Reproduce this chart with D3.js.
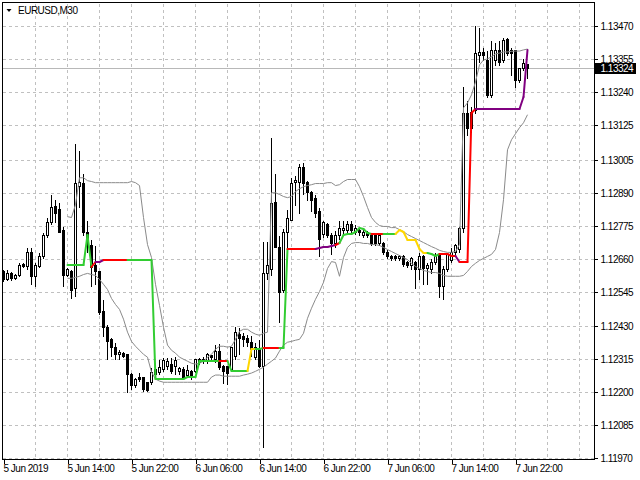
<!DOCTYPE html>
<html><head><meta charset="utf-8">
<script src="https://cdn.jsdelivr.net/npm/d3@7"></script>
<style>
html,body{margin:0;padding:0;background:#fff;}
svg{display:block;}
text{font-family:"Liberation Sans",Arial,sans-serif;font-size:10px;letter-spacing:-0.5px;fill:#000;}
</style>
</head><body>
<svg id="c" width="640" height="480"></svg>
<script>
const symbolLabel = "EURUSD,M30";
const timeLabels = ["5 Jun 2019","5 Jun 14:00","5 Jun 22:00","6 Jun 06:00","6 Jun 14:00","6 Jun 22:00","7 Jun 06:00","7 Jun 14:00","7 Jun 22:00"];
const timeLabelBars = [0,16,32,48,64,80,96,112,128];
const priceTicks = [1.11970,1.12085,1.12200,1.12315,1.12430,1.12545,1.12660,1.12775,1.12890,1.13005,1.13125,1.13240,1.13355,1.13470];
const lastPrice = 1.13324;

const open = [1.12618,1.12590,1.12614,1.12594,1.12604,1.12642,1.12635,1.12687,1.12601,1.12635,
1.12670,1.12746,1.12788,1.12846,1.12833,1.12763,1.12604,1.12618,1.12559,1.12916,
1.12926,1.12756,1.12711,1.12639,1.12618,1.12479,1.12424,1.12382,1.12355,1.12330,
1.12334,1.12330,1.12261,1.12223,1.12251,1.12251,1.12233,1.12233,1.12261,1.12268,
1.12278,1.12289,1.12296,1.12289,1.12271,1.12278,1.12258,1.12271,1.12271,1.12303,
1.12313,1.12306,1.12327,1.12313,1.12341,1.12289,1.12289,1.12278,1.12323,1.12400,
1.12393,1.12386,1.12372,1.12320,1.12348,1.12289,1.12614,1.12625,1.12860,1.12704,
1.12555,1.12753,1.12798,1.12930,1.12930,1.12982,1.12930,1.12895,1.12874,1.12826,
1.12749,1.12781,1.12746,1.12715,1.12746,1.12760,1.12763,1.12784,1.12756,1.12763,
1.12746,1.12756,1.12746,1.12743,1.12715,1.12715,1.12687,1.12673,1.12673,1.12666,
1.12670,1.12649,1.12639,1.12649,1.12625,1.12673,1.12628,1.12625,1.12652,1.12677,
1.12566,1.12625,1.12659,1.12684,1.12694,1.12770,1.13169,1.13117,1.13179,1.13370,
1.13380,1.13352,1.13231,1.13352,1.13387,1.13352,1.13425,1.13387,1.13387,1.13283,
1.13324,1.13338];
const high = [1.12625,1.12625,1.12621,1.12614,1.12649,1.12649,1.12704,1.12701,1.12649,1.12684,
1.12756,1.12808,1.12885,1.12871,1.12860,1.12774,1.12632,1.12625,1.13065,1.13040,
1.12961,1.12798,1.12729,1.12711,1.12621,1.12521,1.12434,1.12389,1.12372,1.12348,
1.12341,1.12334,1.12268,1.12251,1.12268,1.12254,1.12237,1.12285,1.12285,1.12313,
1.12320,1.12320,1.12320,1.12323,1.12289,1.12289,1.12296,1.12278,1.12316,1.12320,
1.12323,1.12337,1.12330,1.12365,1.12368,1.12296,1.12292,1.12358,1.12427,1.12424,
1.12407,1.12400,1.12396,1.12372,1.12382,1.12722,1.12722,1.13085,1.12961,1.12746,
1.12770,1.12833,1.12947,1.12954,1.12995,1.12999,1.12937,1.12902,1.12885,1.12840,
1.12798,1.12788,1.12753,1.12763,1.12795,1.12795,1.12795,1.12795,1.12781,1.12774,
1.12767,1.12763,1.12753,1.12749,1.12749,1.12722,1.12694,1.12680,1.12680,1.12680,
1.12677,1.12656,1.12670,1.12656,1.12684,1.12680,1.12649,1.12663,1.12684,1.12684,
1.12639,1.12687,1.12701,1.12718,1.12777,1.13262,1.13214,1.13193,1.13473,1.13467,
1.13397,1.13387,1.13421,1.13415,1.13421,1.13432,1.13432,1.13397,1.13390,1.13328,
1.13359,1.13342];
const low = [1.12583,1.12587,1.12587,1.12590,1.12601,1.12632,1.12625,1.12573,1.12566,1.12632,
1.12666,1.12739,1.12781,1.12788,1.12753,1.12566,1.12601,1.12524,1.12531,1.12843,
1.12746,1.12687,1.12566,1.12573,1.12469,1.12393,1.12313,1.12323,1.12313,1.12313,
1.12320,1.12199,1.12209,1.12216,1.12237,1.12202,1.12202,1.12226,1.12251,1.12261,
1.12271,1.12278,1.12265,1.12261,1.12261,1.12244,1.12251,1.12244,1.12268,1.12296,
1.12299,1.12299,1.12306,1.12303,1.12278,1.12230,1.12226,1.12271,1.12313,1.12330,
1.12358,1.12358,1.12323,1.12313,1.12285,1.12008,1.12590,1.12607,1.12701,1.12441,
1.12545,1.12659,1.12795,1.12850,1.12822,1.12885,1.12867,1.12826,1.12808,1.12670,
1.12739,1.12736,1.12680,1.12704,1.12729,1.12749,1.12756,1.12756,1.12749,1.12743,
1.12739,1.12736,1.12708,1.12708,1.12708,1.12677,1.12666,1.12659,1.12659,1.12659,
1.12635,1.12632,1.12625,1.12562,1.12590,1.12573,1.12573,1.12614,1.12642,1.12528,
1.12521,1.12618,1.12652,1.12677,1.12687,1.12756,1.13092,1.13103,1.13169,1.13345,
1.13352,1.13224,1.13224,1.13335,1.13335,1.13345,1.13370,1.13300,1.13259,1.13276,
1.13317,1.13290];
const close = [1.12590,1.12614,1.12594,1.12604,1.12639,1.12635,1.12684,1.12601,1.12639,1.12670,
1.12746,1.12791,1.12843,1.12822,1.12756,1.12604,1.12625,1.12555,1.12926,1.12930,
1.12753,1.12711,1.12632,1.12618,1.12476,1.12424,1.12375,1.12355,1.12330,1.12337,
1.12323,1.12261,1.12223,1.12244,1.12244,1.12209,1.12206,1.12268,1.12278,1.12285,
1.12310,1.12306,1.12271,1.12310,1.12282,1.12247,1.12275,1.12258,1.12313,1.12313,
1.12306,1.12330,1.12320,1.12341,1.12285,1.12271,1.12265,1.12355,1.12407,1.12386,
1.12382,1.12372,1.12348,1.12355,1.12289,1.12614,1.12639,1.12857,1.12704,1.12545,
1.12756,1.12805,1.12926,1.12937,1.12982,1.12926,1.12895,1.12867,1.12822,1.12729,
1.12788,1.12746,1.12715,1.12746,1.12767,1.12767,1.12781,1.12763,1.12767,1.12753,
1.12756,1.12746,1.12715,1.12715,1.12743,1.12687,1.12670,1.12666,1.12666,1.12673,
1.12642,1.12639,1.12663,1.12625,1.12670,1.12628,1.12639,1.12652,1.12673,1.12566,
1.12625,1.12677,1.12684,1.12708,1.12770,1.13169,1.13117,1.13172,1.13376,1.13380,
1.13370,1.13231,1.13387,1.13387,1.13345,1.13421,1.13376,1.13376,1.13283,1.13324,
1.13342,1.13324];

// indicator buffers start at bar 16
const indicatorStart = 16;
const upperBand = [1.12808,1.12805,1.12850,1.12943,1.12943,1.12933,1.12930,1.12926,1.12926,1.12926,
1.12926,1.12926,1.12926,1.12926,1.12926,1.12926,1.12930,1.12926,1.12916,1.12805,
1.12711,1.12666,1.12573,1.12500,1.12424,1.12362,1.12344,1.12334,1.12320,1.12313,
1.12306,1.12299,1.12296,1.12299,1.12306,1.12320,1.12330,1.12348,1.12358,1.12358,
1.12355,1.12358,1.12382,1.12410,1.12417,1.12417,1.12407,1.12400,1.12396,1.12403,
1.12407,1.12891,1.12891,1.12885,1.12878,1.12874,1.12878,1.12895,1.12905,1.12912,
1.12916,1.12919,1.12923,1.12923,1.12923,1.12926,1.12926,1.12916,1.12919,1.12930,
1.12937,1.12937,1.12937,1.12912,1.12878,1.12840,1.12805,1.12788,1.12777,1.12774,
1.12774,1.12770,1.12770,1.12763,1.12756,1.12746,1.12739,1.12732,1.12725,1.12718,
1.12711,1.12704,1.12698,1.12691,1.12687,1.12684,1.12684,1.12687,1.12711,1.13186,
1.13203,1.13231,1.13276,1.13335,1.13352,1.13356,1.13363,1.13373,1.13376,1.13380,
1.13380,1.13382,1.13383,1.13383,1.13387,1.13390];
const lowerBand = [1.12594,1.12594,1.12597,1.12601,1.12607,1.12611,1.12607,1.12604,1.12590,1.12573,
1.12555,1.12524,1.12503,1.12486,1.12452,1.12407,1.12375,1.12358,1.12344,1.12330,
1.12320,1.12268,1.12244,1.12237,1.12233,1.12233,1.12233,1.12233,1.12233,1.12233,
1.12233,1.12233,1.12233,1.12233,1.12233,1.12233,1.12251,1.12258,1.12258,1.12254,
1.12254,1.12254,1.12254,1.12254,1.12258,1.12261,1.12265,1.12271,1.12278,1.12285,
1.12296,1.12306,1.12317,1.12341,1.12362,1.12372,1.12375,1.12379,1.12382,1.12403,
1.12455,1.12490,1.12521,1.12548,1.12580,1.12628,1.12652,1.12649,1.12601,1.12666,
1.12701,1.12715,1.12718,1.12718,1.12715,1.12715,1.12711,1.12711,1.12708,1.12701,
1.12694,1.12687,1.12680,1.12673,1.12666,1.12659,1.12646,1.12635,1.12628,1.12621,
1.12618,1.12614,1.12614,1.12611,1.12604,1.12601,1.12601,1.12601,1.12601,1.12604,
1.12618,1.12635,1.12646,1.12656,1.12663,1.12670,1.12677,1.12694,1.12753,1.12867,
1.13040,1.13075,1.13096,1.13117,1.13134,1.13162];
const trendLine = [1.12639,1.12639,1.12639,1.12639,1.12639,
1.12746,1.12632,1.12649,1.12652,1.12656,
1.12656,1.12656,1.12656,1.12656,1.12656,1.12656,
1.12656,1.12656,1.12656,1.12656,1.12656,1.12656,
1.12244,1.12244,1.12244,1.12244,1.12244,1.12244,1.12244,1.12244,
1.12252,1.12252,1.12252,
1.12308,1.12308,1.12308,1.12308,1.12308,1.12308,
1.12308,1.12308,
1.12273,
1.12271,1.12271,1.12271,1.12271,
1.12348,1.12348,
1.12348,1.12351,
1.12351,1.12351,1.12351,1.12351,
1.12351,1.12694,
1.12696,1.12696,1.12696,1.12696,1.12696,1.12696,1.12696,
1.12700,1.12701,1.12703,1.12706,1.12710,
1.12717,
1.12746,1.12747,1.12748,1.12753,1.12768,1.12765,1.12752,1.12748,
1.12748,1.12748,1.12748,
1.12748,1.12748,1.12748,
1.12763,1.12756,1.12726,1.12726,1.12726,1.12694,1.12683,1.12683,
1.12677,1.12672,1.12678,
1.12677,1.12677,1.12671,1.12671,
1.12650,
1.12650,1.12650,1.13169,1.13181,
1.13181,1.13181,1.13181,1.13181,1.13181,1.13181,1.13181,1.13181,1.13181,1.13181,1.13181,
1.13224,1.13387];
// state of each trend segment: G up, R down, P flat/weak, Y correction
const trendState = ("GGGGG"+"GG"+"R"+"PP"+"RRRRRR"+"GGGGGG"+"GGGGGGGG"+"GGG"+"GGGGGG"+"RR"+"G"+"GGGG"+
  "YY"+"GG"+"RRRR"+"GG"+"RRRRRRR"+"PPPPP"+"R"+"GGGGGGGG"+"RRR"+"GGG"+"YYYYYYYY"+"GGG"+"RRRR"+"P"+"RRRR"+
  "PPPPPPPPPPPPP").split("");
const stateColor = {G:"#32CD32", R:"#FF0000", P:"#800080", Y:"#FFD700"};

const svg = d3.select("#c");
const nBars = open.length;
const x = d3.scaleLinear().domain([0, nBars - 1]).range([3.5, 3.5 + 4 * (nBars - 1)]);
const y = d3.scaleLinear().domain([1.11970, 1.13470]).range([458, 26]);
const py = v => Math.round(y(v)) + 0.5;
const L = 2.5, R = 594.5, T = 2.5, B = 459.5;

// grid
const grid = svg.append("g").attr("shape-rendering","crispEdges")
  .attr("stroke","#c0c0c0").attr("stroke-dasharray","3,3");
grid.selectAll("line.h").data(priceTicks).join("line").attr("class","h")
  .attr("x1", L).attr("x2", R).attr("y1", d => py(d)).attr("y2", d => py(d));
const gridBars = d3.range(8, 150, 8).filter(b => x(b) < R - 4);
grid.selectAll("line.v").data(gridBars).join("line").attr("class","v")
  .attr("x1", d => x(d)).attr("x2", d => x(d)).attr("y1", T + 1).attr("y2", B - 1);

// bid line
svg.append("line").attr("x1", L).attr("x2", R).attr("y1", py(lastPrice)).attr("y2", py(lastPrice))
  .attr("stroke","#b8b8b8").attr("shape-rendering","crispEdges");

// candles
const idx = d3.range(nBars);
const cg = svg.append("g").attr("shape-rendering","crispEdges");
cg.selectAll("line").data(idx).join("line")
  .attr("x1", i => x(i)).attr("x2", i => x(i))
  .attr("y1", i => py(high[i])).attr("y2", i => py(low[i]))
  .attr("stroke","#000");
cg.selectAll("path").data(idx).join("path")
  .attr("d", i => {
    const t = Math.min(py(open[i]), py(close[i]));
    const b = Math.max(py(open[i]), py(close[i]));
    return `M${x(i)-1},${t}H${x(i)+1}V${b}H${x(i)-1}Z`;
  })
  .attr("fill", i => close[i] >= open[i] ? "#fff" : "#000")
  .attr("stroke","#000");

// envelope bands
const bandLine = d3.line().x((d, k) => x(indicatorStart + k)).y(d => y(d));
svg.append("path").datum(upperBand).attr("d", bandLine).attr("fill","none").attr("stroke","#8a8a8a").attr("stroke-width",1);
svg.append("path").datum(lowerBand).attr("d", bandLine).attr("fill","none").attr("stroke","#8a8a8a").attr("stroke-width",1);

// coloured trend line
const segs = d3.range(1, trendLine.length);
svg.append("g").selectAll("line").data(segs).join("line")
  .attr("x1", k => x(indicatorStart + k - 1)).attr("x2", k => x(indicatorStart + k))
  .attr("y1", k => Math.round(y(trendLine[k - 1]))).attr("y2", k => Math.round(y(trendLine[k])))
  .attr("stroke", k => stateColor[trendState[k]]).attr("stroke-width", 2).attr("stroke-linecap","round");

// frame
svg.append("rect").attr("x", L).attr("y", T).attr("width", R - L).attr("height", B - T)
  .attr("fill","none").attr("stroke","#000").attr("shape-rendering","crispEdges");

// price axis
const yAxis = d3.axisRight(y).tickValues(priceTicks).tickFormat(d3.format(".5f")).tickSize(3).tickPadding(3);
const ya = svg.append("g").attr("transform", `translate(${R},0)`).call(yAxis);
ya.select(".domain").remove();
ya.selectAll(".tick").attr("transform", d => `translate(0,${py(d)})`);
ya.selectAll(".tick line").attr("stroke","#000").attr("shape-rendering","crispEdges");
ya.selectAll(".tick text").attr("fill","#000").attr("font-family",null).attr("font-size",null).attr("dy","0.35em");

// time axis
const xAxis = d3.axisBottom(x).tickValues(timeLabelBars).tickFormat((d, i) => timeLabels[i]).tickSize(4);
const xa = svg.append("g").attr("transform", `translate(0,${B})`).call(xAxis);
xa.select(".domain").remove();
xa.selectAll(".tick line").attr("stroke","#000").attr("shape-rendering","crispEdges");
xa.selectAll(".tick text").attr("fill","#000").attr("font-family",null).attr("font-size",null)
  .attr("text-anchor","start").attr("x",-0.5).attr("y",5).attr("dy","0.71em");

// last price marker
const ly = Math.round(y(lastPrice));
svg.append("rect").attr("x",595).attr("y",ly-5).attr("width",41).attr("height",11).attr("fill","#000");
svg.append("text").attr("x",600.5).attr("y",ly+4).style("fill","#fff").text(d3.format(".5f")(lastPrice));

// title
svg.append("path").attr("d","M6.5,9L11.5,9L9,12Z").attr("fill","#000");
svg.append("text").attr("x",18).attr("y",14).text(symbolLabel);
</script>
</body></html>
